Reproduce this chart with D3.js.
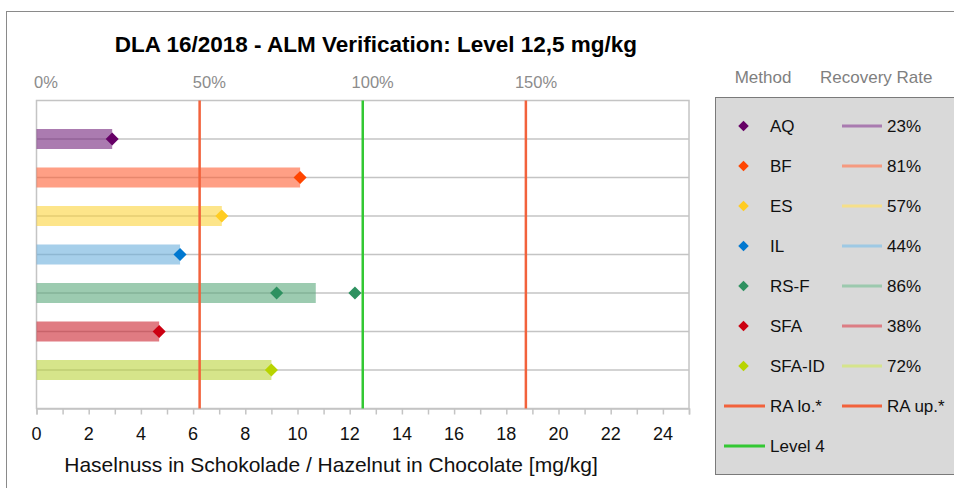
<!DOCTYPE html>
<html><head><meta charset="utf-8">
<script src="https://cdn.jsdelivr.net/npm/d3@7"></script>
<style>body{margin:0;background:#fff}svg{display:block;font-family:Arial,"Liberation Sans",sans-serif}</style>
</head><body><svg id="c" width="954" height="488"></svg>
<script>
const methods = ["AQ","BF","ES","IL","RS-F","SFA","SFA-ID"];
const meanValues = [2.9,10.1,7.1,5.5,10.7,4.7,9.0];
const results = [[2.9],[10.1],[7.1],[5.5],[9.2,12.2],[4.7],[9.0]];
const recoveryRates = ["23%","81%","57%","44%","86%","38%","72%"];
const markerColors = ["#660066","#ff4500","#ffcc22","#0078d0","#2e9160","#cc0011","#b8d400"];
const barColors = ["#73237b","#ff5f34","#fcd43c","#6bafdc","#5aa87b","#cb232f","#bbd43c"];
const legendLineColors = ["#a97bb0","#f59a80","#f5df8a","#9ec9e4","#9cc9ae","#dc7d84","#d5e48c"];
const level = 12.5, raLo = 6.25, raUp = 18.75;
const xTicks = d3.range(0,26,1);
const xLabels = d3.range(0,25,2);
const pctTicks = [0,50,100,150];

const svg = d3.select("#c");
// outer frame
svg.append("rect").attr("x",6.5).attr("y",11.5).attr("width",1000).attr("height",600)
  .attr("fill","#fff").attr("stroke","#8a8a8a").attr("stroke-width",1);

const x = d3.scaleLinear().domain([0,25]).range([36.5,689]);
const y = d3.scaleLinear().domain([0,8]).range([100.5,408.5]);
const xp = d3.scaleLinear().domain([0,150]).range([46,536]);

svg.append("text").attr("x",376).attr("y",52).attr("text-anchor","middle")
  .attr("font-size",22.5).attr("font-weight","bold").attr("fill","#000")
  .text("DLA 16/2018 - ALM Verification: Level 12,5 mg/kg");

// top percentage labels
svg.append("g").selectAll("text").data(pctTicks).join("text")
  .attr("x",d=>xp(d)).attr("y",88).attr("text-anchor","middle")
  .attr("font-size",16.5).attr("fill","#8c8c8c").text(d=>d+"%");

// plot border
svg.append("rect").attr("x",x(0)).attr("y",y(0)).attr("width",x(25)-x(0)).attr("height",y(8)-y(0))
  .attr("fill","none").attr("stroke","#c4c4c4").attr("stroke-width",1.5);

// gridlines
svg.append("g").selectAll("line").data(d3.range(1,8)).join("line")
  .attr("x1",x(0)).attr("x2",x(25)).attr("y1",d=>y(d)).attr("y2",d=>y(d))
  .attr("stroke","#c4c4c4").attr("stroke-width",1.5);

// x axis
const xAxis = d3.axisBottom(x).tickValues(xTicks).tickSize(6).tickFormat("");
const ga = svg.append("g").attr("transform",`translate(0,${y(8)})`).call(xAxis);
ga.select(".domain").attr("stroke","#c4c4c4").attr("stroke-width",1.5);
ga.selectAll(".tick line").attr("stroke","#c4c4c4").attr("stroke-width",1.5);
svg.append("g").selectAll("text").data(xLabels).join("text")
  .attr("x",d=>x(d)).attr("y",440).attr("text-anchor","middle")
  .attr("font-size",18).attr("fill","#111").text(d=>d);

svg.append("text").attr("x",331).attr("y",472).attr("text-anchor","middle")
  .attr("font-size",21).attr("fill","#111")
  .text("Haselnuss in Schokolade / Hazelnut in Chocolate [mg/kg]");

// bars
svg.append("g").selectAll("rect").data(methods).join("rect")
  .attr("x",x(0)).attr("y",(d,i)=>y(i+1)-10).attr("height",20)
  .attr("width",(d,i)=>x(meanValues[i])-x(0))
  .attr("fill",(d,i)=>barColors[i]).attr("fill-opacity",0.6);

// reference lines
const refs = [{v:raLo,c:"#f2623c"},{v:level,c:"#33c833"},{v:raUp,c:"#f2623c"}];
svg.append("g").selectAll("line").data(refs).join("line")
  .attr("x1",d=>x(d.v)).attr("x2",d=>x(d.v)).attr("y1",y(0)).attr("y2",y(8))
  .attr("stroke",d=>d.c).attr("stroke-width",2.5);

// markers
const pts = [];
results.forEach((arr,i)=>arr.forEach(v=>pts.push({i,v})));
const diamond = d3.symbol().type(d3.symbolSquare).size(85);
svg.append("g").selectAll("path").data(pts).join("path")
  .attr("d",diamond)
  .attr("transform",d=>`translate(${x(d.v)},${y(d.i+1)}) rotate(45)`)
  .attr("fill",d=>markerColors[d.i]);

// legend
svg.append("text").attr("x",763).attr("y",83).attr("text-anchor","middle")
  .attr("font-size",17).attr("fill","#7f7f7f").text("Method");
svg.append("text").attr("x",820).attr("y",83)
  .attr("font-size",17).attr("fill","#7f7f7f").text("Recovery Rate");
svg.append("rect").attr("x",715.5).attr("y",97.5).attr("width",300).attr("height",377)
  .attr("fill","#d9d9d9").attr("stroke","#7a7a7a").attr("stroke-width",1);
const rowY = i => 126 + i*40;
const lg = svg.append("g").selectAll("g").data(methods).join("g")
  .attr("transform",(d,i)=>`translate(0,${rowY(i)})`);
lg.append("path").attr("d",d3.symbol().type(d3.symbolSquare).size(55))
  .attr("transform","translate(743.5,0) rotate(45)").attr("fill",(d,i)=>markerColors[i]);
lg.append("text").attr("x",770).attr("y",6).attr("font-size",17).attr("fill","#111").text(d=>d);
lg.append("line").attr("x1",842).attr("x2",882).attr("y1",0).attr("y2",0)
  .attr("stroke",(d,i)=>legendLineColors[i]).attr("stroke-width",3);
lg.append("text").attr("x",887).attr("y",6).attr("font-size",17).attr("fill","#111").text((d,i)=>recoveryRates[i]);

const extra = [
  {x1:724,x2:765,tx:770,y:rowY(7),c:"#f2623c",t:"RA lo.*"},
  {x1:842,x2:882,tx:887,y:rowY(7),c:"#f2623c",t:"RA up.*"},
  {x1:724,x2:765,tx:770,y:rowY(8),c:"#33c833",t:"Level 4"}
];
const eg = svg.append("g").selectAll("g").data(extra).join("g");
eg.append("line").attr("x1",d=>d.x1).attr("x2",d=>d.x2).attr("y1",d=>d.y).attr("y2",d=>d.y)
  .attr("stroke",d=>d.c).attr("stroke-width",3);
eg.append("text").attr("x",d=>d.tx).attr("y",d=>d.y+6).attr("font-size",17).attr("fill","#111").text(d=>d.t);
</script></body></html>
